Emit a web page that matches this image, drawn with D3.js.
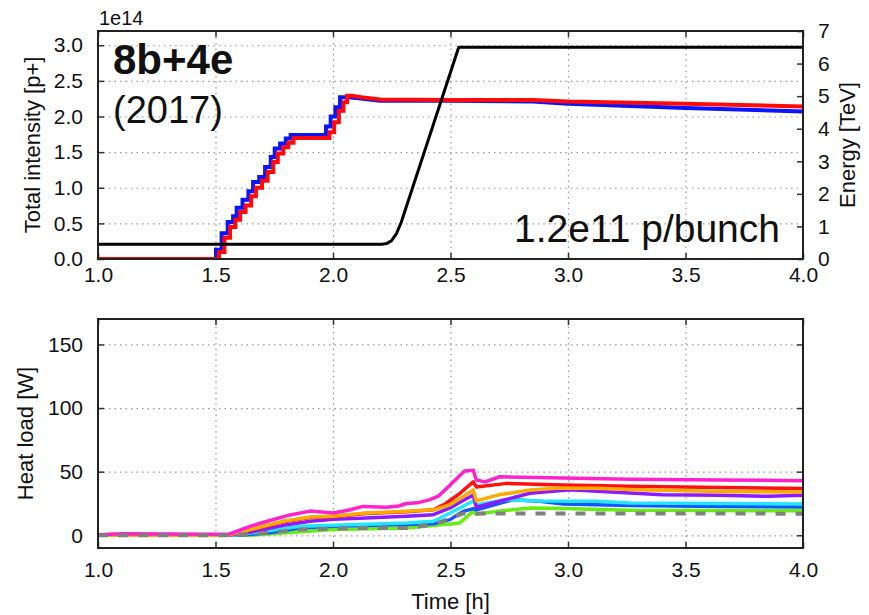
<!DOCTYPE html>
<html>
<head>
<meta charset="utf-8">
<script src="https://cdn.jsdelivr.net/npm/d3@7"></script>
<style>
  body { margin: 0; background: #fff; }
  svg text { font-family: "Liberation Sans", Arial, sans-serif; fill: #111; }
  .grid line { stroke: #999; stroke-width: 1.2; stroke-dasharray: 1.5,4; }
  .grid path { display: none; }
  .axis path { display: none; }
  .axis line { stroke: #333; stroke-width: 1.5; }
</style>
</head>
<body>
<svg id="chart"></svg>
<script>
// ---- tick values ----
const timeTicks = [1.0, 1.5, 2.0, 2.5, 3.0, 3.5, 4.0];
const intensityTicks = [0, 0.5, 1.0, 1.5, 2.0, 2.5, 3.0];
const energyTicks = [0, 1, 2, 3, 4, 5, 6, 7];
const heatTicks = [0, 50, 100, 150];

// ---- top panel: intensity [1e14 p+], injection staircase [t, level reached] ----
const beam1Steps = [[1.0, 0], [1.502, 0.13], [1.526, 0.36], [1.552, 0.52], [1.575, 0.60], [1.59, 0.72],
  [1.615, 0.83], [1.64, 0.95], [1.66, 1.08], [1.686, 1.15], [1.711, 1.29], [1.735, 1.43], [1.752, 1.55],
  [1.775, 1.62], [1.799, 1.69], [1.82, 1.74], [1.97, 1.86], [1.99, 2.0], [2.01, 2.13], [2.03, 2.27]];
const beam1Tail = [[2.06, 2.27], [2.1, 2.26], [2.2, 2.22], [2.5, 2.22], [2.85, 2.21], [3.0, 2.18], [3.5, 2.12], [4.0, 2.07]];

const beam2Steps = [[1.0, 0], [1.515, 0.10], [1.538, 0.30], [1.562, 0.45], [1.585, 0.55], [1.605, 0.66],
  [1.628, 0.75], [1.652, 0.88], [1.672, 1.0], [1.698, 1.10], [1.722, 1.22], [1.746, 1.36], [1.765, 1.48],
  [1.788, 1.57], [1.81, 1.63], [1.832, 1.70], [1.985, 1.78], [2.005, 1.92], [2.025, 2.08], [2.045, 2.20], [2.06, 2.29]];
const beam2Tail = [[2.08, 2.29], [2.12, 2.27], [2.2, 2.24], [2.5, 2.23], [2.85, 2.23], [3.0, 2.21], [3.5, 2.18], [4.0, 2.14]];

// energy [TeV]
const energy = [[1.0, 0.45], [2.21, 0.45], [2.23, 0.48], [2.25, 0.57], [2.27, 0.78], [2.29, 1.12], [2.535, 6.5], [4.0, 6.5]];

// ---- bottom panel: heat load [W] per sector ----
const heatGreen = [[1.0, 0], [1.65, 0], [1.79, 1.7], [2.0, 4.5], [2.313, 5.8], [2.54, 9.7], [2.555, 12.3], [2.597, 19],
  [2.61, 16.5], [2.697, 18.8], [2.838, 21.5], [2.98, 21], [3.264, 19.6], [4.0, 19.3]];
const heatBlue = [[1.0, 0], [1.6, 0], [1.73, 2], [1.86, 5.8], [2.0, 7], [2.313, 8.4], [2.427, 9], [2.498, 12.3],
  [2.555, 18.8], [2.597, 21], [2.61, 20], [2.767, 28], [2.88, 26.7], [2.98, 24.6], [3.264, 23.5], [3.647, 22.7], [4.0, 22.2]];
const heatCyan = [[1.0, 0], [1.58, 0], [1.7, 3], [1.86, 7], [2.0, 7.8], [2.313, 9.7], [2.427, 11], [2.498, 17.5],
  [2.597, 27], [2.61, 24], [2.74, 28], [2.88, 27], [3.12, 26.7], [3.264, 25.4], [4.0, 24.6]];
const heatPurple = [[1.0, 0], [1.55, 0], [1.65, 2.5], [1.789, 7.8], [1.902, 11], [2.0, 12.5], [2.14, 13.6], [2.313, 15],
  [2.427, 16.2], [2.498, 21.5], [2.54, 26], [2.597, 31.6], [2.61, 22], [2.70, 26.4], [2.838, 33], [3.009, 35.8],
  [3.264, 33.2], [3.4, 31.9], [3.647, 31.5], [3.85, 30.6], [4.0, 31.5]];
const heatRed = [[1.0, 0], [1.55, 0], [1.647, 4.2], [1.789, 10.6], [1.902, 14], [2.0, 14.6], [2.14, 17.1], [2.313, 18.5],
  [2.427, 20], [2.48, 25], [2.54, 33], [2.597, 42], [2.61, 38], [2.74, 40.8], [2.98, 39.5], [3.26, 38.5], [3.65, 37.5], [4.0, 36.7]];
const heatOrange = [[1.0, 0], [1.55, 0], [1.647, 4.5], [1.789, 11], [1.902, 14.4], [2.0, 15], [2.14, 17.5], [2.313, 18.8],
  [2.427, 20], [2.498, 24], [2.55, 30], [2.597, 35.6], [2.61, 27], [2.70, 31.6], [2.838, 35.6], [2.95, 37], [3.122, 37],
  [3.26, 36], [3.647, 34.5], [4.0, 34]];
const heatMagenta = [[1.0, 0.5], [1.1, 1.2], [1.3, 1.0], [1.5, 0.8], [1.56, 1], [1.647, 7], [1.72, 11], [1.817, 16],
  [1.902, 19], [2.0, 17.5], [2.06, 19.5], [2.128, 22.7], [2.228, 22], [2.28, 23], [2.313, 25], [2.36, 25.5], [2.413, 28],
  [2.45, 31], [2.484, 37], [2.54, 47], [2.56, 50.5], [2.597, 51.2], [2.61, 43.4], [2.647, 42], [2.71, 46], [2.98, 45],
  [3.264, 44], [3.647, 43.5], [4.0, 42.9]];
const heatGray = [[1.0, 0], [1.55, 0], [1.73, 2], [1.86, 4.5], [2.0, 5.2], [2.14, 5.8], [2.313, 5.8], [2.427, 8.4],
  [2.51, 14], [2.555, 17.2], [4.0, 17]];

const heatSeries = [
  { values: heatGreen, color: "#66ee11" },
  { values: heatBlue, color: "#1155ff" },
  { values: heatCyan, color: "#22e6ff" },
  { values: heatPurple, color: "#8c1aff" },
  { values: heatRed, color: "#ff1010" },
  { values: heatOrange, color: "#ffaa00" },
  { values: heatMagenta, color: "#ff22cc" }
];

// ---- layout ----
const W = 869, H = 615;
const left = 98, right = 803;
const top1 = 31, bottom1 = 259;
const top2 = 319, bottom2 = 548;

const svg = d3.select("#chart").attr("width", W).attr("height", H);
svg.append("rect").attr("width", W).attr("height", H).attr("fill", "#fff");

const x = d3.scaleLinear().domain([1, 4]).range([left, right]);
const yInt = d3.scaleLinear().domain([0, 3.2]).range([bottom1, top1]);
const yEn = d3.scaleLinear().domain([0, 7]).range([bottom1, top1]);
const yHeat = d3.scaleLinear().domain([-10, 170]).range([bottom2, top2]);

const fmt1 = d3.format(".1f");

// expand an injection staircase into path vertices
function stairs(steps, tail) {
  const pts = [steps[0]];
  for (let i = 1; i < steps.length; i++) {
    pts.push([steps[i][0], steps[i - 1][1]]);
    pts.push(steps[i]);
  }
  return pts.concat(tail);
}

function panel(yScale, yTicks, yFmt, topY, bottomY, xPad) {
  const h = bottomY - topY, w = right - left;
  // grid
  svg.append("g").attr("class", "grid")
    .attr("transform", `translate(0,${bottomY})`)
    .call(d3.axisBottom(x).tickValues(timeTicks.slice(1, -1)).tickSize(-h).tickFormat(""));
  svg.append("g").attr("class", "grid")
    .attr("transform", `translate(${left},0)`)
    .call(d3.axisLeft(yScale).tickValues(yTicks).tickSize(-w).tickFormat(""));
  // axes with inward ticks
  svg.append("g").attr("class", "axis")
    .attr("transform", `translate(0,${bottomY})`)
    .call(d3.axisBottom(x).tickValues(timeTicks).tickSize(-6).tickPadding(xPad).tickFormat(fmt1))
    .call(g => g.selectAll("text").style("font-size", "21px").attr("fill", "#111"));
  svg.append("g").attr("class", "axis")
    .attr("transform", `translate(0,${topY})`)
    .call(d3.axisTop(x).tickValues(timeTicks).tickSize(-6).tickFormat(""));
  svg.append("g").attr("class", "axis")
    .attr("transform", `translate(${left},0)`)
    .call(d3.axisLeft(yScale).tickValues(yTicks).tickSize(-6).tickPadding(15).tickFormat(yFmt))
    .call(g => g.selectAll("text").style("font-size", "21px").attr("fill", "#111"));
}

// ---- top panel ----
panel(yInt, intensityTicks, fmt1, top1, bottom1, 8);
svg.append("g").attr("class", "axis")
  .attr("transform", `translate(${right},0)`)
  .call(d3.axisRight(yEn).tickValues(energyTicks).tickSize(-6).tickPadding(15).tickFormat(d3.format("d")))
  .call(g => g.selectAll("text").style("font-size", "21px").attr("fill", "#111"));

const lineInt = d3.line().x(d => x(d[0])).y(d => yInt(d[1]));
const lineEn = d3.line().x(d => x(d[0])).y(d => yEn(d[1]));

svg.append("defs").append("clipPath").attr("id", "clip1")
  .append("rect").attr("x", left).attr("y", top1).attr("width", right - left).attr("height", bottom1 - top1);

const g1 = svg.append("g").attr("clip-path", "url(#clip1)");
g1.append("path").datum(stairs(beam1Steps, beam1Tail))
  .attr("d", lineInt).attr("fill", "none").attr("stroke", "#0a14ff").attr("stroke-width", 4);
g1.append("path").datum(stairs(beam2Steps, beam2Tail))
  .attr("d", lineInt).attr("fill", "none").attr("stroke", "#ff0a0a").attr("stroke-width", 4);
g1.append("path").datum(energy)
  .attr("d", lineEn).attr("fill", "none").attr("stroke", "#000").attr("stroke-width", 3)
  .attr("stroke-linejoin", "round");

svg.append("rect").attr("x", left).attr("y", top1).attr("width", right - left).attr("height", bottom1 - top1)
  .attr("fill", "none").attr("stroke", "#222").attr("stroke-width", 2);

svg.append("text").attr("x", 99).attr("y", 25).style("font-size", "20px").text("1e14");
svg.append("text").attr("x", 113).attr("y", 74).style("font-size", "42px").style("font-weight", "bold").text("8b+4e");
svg.append("text").attr("x", 113).attr("y", 123).style("font-size", "38px").text("(2017)");
svg.append("text").attr("x", 780).attr("y", 242).attr("text-anchor", "end").style("font-size", "39px").text("1.2e11 p/bunch");

svg.append("text").attr("transform", `translate(32,${(top1 + bottom1) / 2}) rotate(-90)`)
  .attr("text-anchor", "middle").attr("dy", "0.35em").style("font-size", "22px").text("Total intensity [p+]");
svg.append("text").attr("transform", `translate(847,${(top1 + bottom1) / 2}) rotate(-90)`)
  .attr("text-anchor", "middle").attr("dy", "0.35em").style("font-size", "22px").text("Energy [TeV]");

// ---- bottom panel ----
panel(yHeat, heatTicks, d3.format("d"), top2, bottom2, 14);
svg.append("g").attr("class", "axis")
  .attr("transform", `translate(${right},0)`)
  .call(d3.axisRight(yHeat).tickValues(heatTicks).tickSize(-6).tickFormat(""));

const lineHeat = d3.line().x(d => x(d[0])).y(d => yHeat(d[1]));
const g2 = svg.append("g");
heatSeries.forEach(s => {
  g2.append("path").datum(s.values)
    .attr("d", lineHeat).attr("fill", "none").attr("stroke", s.color).attr("stroke-width", 3.5)
    .attr("stroke-linejoin", "round");
});
g2.append("path").datum(heatGray)
  .attr("d", lineHeat).attr("fill", "none").attr("stroke", "#808080").attr("stroke-width", 4)
  .attr("stroke-dasharray", "10,10");

svg.append("rect").attr("x", left).attr("y", top2).attr("width", right - left).attr("height", bottom2 - top2)
  .attr("fill", "none").attr("stroke", "#222").attr("stroke-width", 2);

svg.append("text").attr("transform", `translate(25,${(top2 + bottom2) / 2}) rotate(-90)`)
  .attr("text-anchor", "middle").attr("dy", "0.35em").style("font-size", "22px").text("Heat load [W]");
svg.append("text").attr("x", (left + right) / 2).attr("y", 609)
  .attr("text-anchor", "middle").style("font-size", "22px").text("Time [h]");
</script>
</body>
</html>
